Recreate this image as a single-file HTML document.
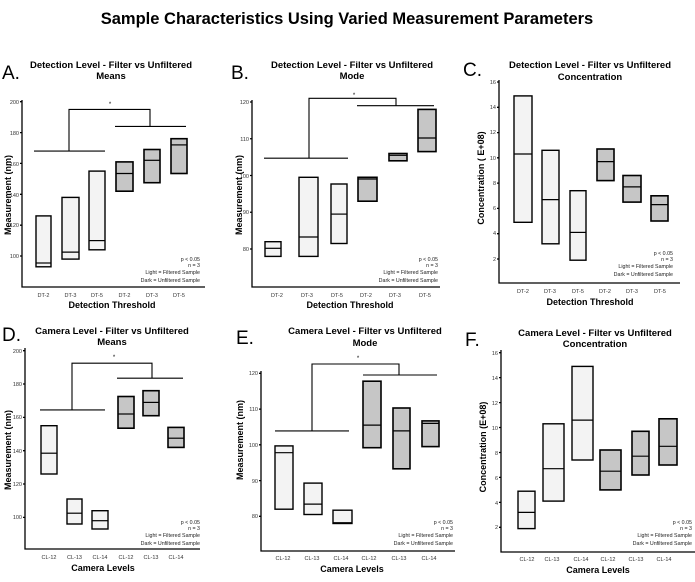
<!DOCTYPE html>
<html><head><meta charset="utf-8"><style>
body{margin:0;background:#fff}
svg{display:block;font-family:"Liberation Sans",sans-serif}
.t{font-weight:bold;font-size:9.5px;text-anchor:middle}
.pl{font-size:19px}
.yl{font-weight:bold;font-size:9px;text-anchor:middle}
.xl{font-weight:bold;font-size:9px;text-anchor:middle}
.tk{font-size:5.5px;fill:#333;text-anchor:middle}
.yt{font-size:5.5px;fill:#333;text-anchor:end}
.lg{font-size:5.3px;fill:#222;text-anchor:end}
.ax{stroke:#000;stroke-width:1.3;fill:none}
.br{stroke:#000;stroke-width:1.1;fill:none}
.L{fill:#f3f3f3;stroke:#000;stroke-width:1.4}
.D{fill:#c6c6c6;stroke:#000;stroke-width:1.6}
.m{stroke:#000;stroke-width:1.2}
</style></head><body>
<svg width="695" height="582" viewBox="0 0 695 582">
<text x="347" y="24" text-anchor="middle" font-weight="bold" font-size="16.5">Sample Characteristics Using Varied Measurement Parameters</text>

<!-- A -->
<text class="pl" x="2" y="79">A.</text>
<text class="t" x="111" y="68">Detection Level - Filter vs Unfiltered</text>
<text class="t" x="111" y="79">Means</text>
<text class="yl" transform="translate(11,195) rotate(-90)">Measurement (nm)</text>
<path class="ax" d="M22,100V287H205"/>
<g class="yt"><text x="19" y="104">200</text><text x="19" y="135">180</text><text x="19" y="166">160</text><text x="19" y="197">140</text><text x="19" y="227">120</text><text x="19" y="258">100</text></g>
<path class="ax" d="M20,101.7h2M20,132.6h2M20,163.4h2M20,194.3h2M20,225.2h2M20,256h2"/>
<rect class="L" x="36" y="215.9" width="15" height="50.9"/><line class="m" x1="36" x2="51" y1="263" y2="263"/>
<rect class="L" x="62" y="197.4" width="17" height="61.7"/><line class="m" x1="62" x2="79" y1="252.1" y2="252.1"/>
<rect class="L" x="89" y="171.1" width="16" height="78.7"/><line class="m" x1="89" x2="105" y1="240.6" y2="240.6"/>
<rect class="D" x="116" y="161.9" width="17" height="29.3"/><line class="m" x1="116" x2="133" y1="173.5" y2="173.5"/>
<rect class="D" x="144" y="149.5" width="16" height="33.2"/><line class="m" x1="144" x2="160" y1="160.3" y2="160.3"/>
<rect class="D" x="171" y="138.7" width="16" height="34.8"/><line class="m" x1="171" x2="187" y1="144.9" y2="144.9"/>
<path class="br" d="M34,151.1H105M69,151.1V109.4H150V126.4M115,126.4H186"/>
<text x="110" y="106" font-size="6" text-anchor="middle">*</text>
<g class="tk"><text x="43.5" y="297">DT-2</text><text x="70.5" y="297">DT-3</text><text x="97" y="297">DT-5</text><text x="124.5" y="297">DT-2</text><text x="152" y="297">DT-3</text><text x="179" y="297">DT-5</text></g>
<text class="xl" x="112" y="308">Detection Threshold</text>
<g class="lg"><text x="200" y="261">p &lt; 0.05</text><text x="200" y="267">n = 3</text><text x="200" y="274">Light = Filtered Sample</text><text x="200" y="282">Dark = Unfiltered Sample</text></g>

<!-- B -->
<text class="pl" x="231" y="79">B.</text>
<text class="t" x="352" y="68">Detection Level - Filter vs Unfiltered</text>
<text class="t" x="352" y="79">Mode</text>
<text class="yl" transform="translate(242,195) rotate(-90)">Measurement (nm)</text>
<path class="ax" d="M252,100V287H440"/>
<g class="yt"><text x="249" y="104">120</text><text x="249" y="141">110</text><text x="249" y="178">100</text><text x="249" y="214">90</text><text x="249" y="251">80</text></g>
<path class="ax" d="M250,102h2M250,138.75h2M250,175.5h2M250,212.25h2M250,249h2"/>
<rect class="L" x="265" y="241.7" width="16" height="14.7"/><line class="m" x1="265" x2="281" y1="248.3" y2="248.3"/>
<rect class="L" x="299" y="177.3" width="19" height="79.1"/><line class="m" x1="299" x2="318" y1="237" y2="237"/>
<rect class="L" x="331" y="184" width="16" height="59.5"/><line class="m" x1="331" x2="347" y1="214.1" y2="214.1"/>
<rect class="D" x="358" y="177.3" width="19" height="23.9"/><line class="m" x1="358" x2="377" y1="179" y2="179" stroke-width="2"/>
<rect class="D" x="389" y="153.5" width="18" height="7.3"/><line class="m" x1="389" x2="407" y1="155.3" y2="155.3" stroke-width="2"/>
<rect class="D" x="418" y="109.4" width="18" height="42.2"/><line class="m" x1="418" x2="436" y1="138" y2="138"/>
<path class="br" d="M264,158.2H348M309,158.2V98.3H396V105.7M357,105.7H434"/>
<text x="354" y="97" font-size="6" text-anchor="middle">*</text>
<g class="tk"><text x="277" y="297">DT-2</text><text x="307" y="297">DT-3</text><text x="337" y="297">DT-5</text><text x="366" y="297">DT-2</text><text x="395" y="297">DT-3</text><text x="425" y="297">DT-5</text></g>
<text class="xl" x="350" y="308">Detection Threshold</text>
<g class="lg"><text x="438" y="261">p &lt; 0.05</text><text x="438" y="267">n = 3</text><text x="438" y="274">Light = Filtered Sample</text><text x="438" y="282">Dark = Unfiltered Sample</text></g>

<!-- C -->
<text class="pl" x="463" y="76">C.</text>
<text class="t" x="590" y="68">Detection Level - Filter vs Unfiltered</text>
<text class="t" x="590" y="80">Concentration</text>
<text class="yl" transform="translate(484,178) rotate(-90)">Concentration ( E+08)</text>
<path class="ax" d="M499,80V283H680"/>
<g class="yt"><text x="496" y="84">16</text><text x="496" y="109">14</text><text x="496" y="134">12</text><text x="496" y="160">10</text><text x="496" y="185">8</text><text x="496" y="210">6</text><text x="496" y="235">4</text><text x="496" y="261">2</text></g>
<path class="ax" d="M497,82h2M497,107.3h2M497,132.6h2M497,157.8h2M497,183.1h2M497,208.4h2M497,233.7h2M497,259h2"/>
<rect class="L" x="514" y="95.9" width="18" height="126.4"/><line class="m" x1="514" x2="532" y1="154" y2="154"/>
<rect class="L" x="542" y="150.3" width="17" height="93.5"/><line class="m" x1="542" x2="559" y1="199.6" y2="199.6"/>
<rect class="L" x="570" y="190.7" width="16" height="69.5"/><line class="m" x1="570" x2="586" y1="232.4" y2="232.4"/>
<rect class="D" x="597" y="149" width="17" height="31.6"/><line class="m" x1="597" x2="614" y1="161.6" y2="161.6"/>
<rect class="D" x="623" y="175.5" width="18" height="26.6"/><line class="m" x1="623" x2="641" y1="186.9" y2="186.9"/>
<rect class="D" x="651" y="195.8" width="17" height="25.2"/><line class="m" x1="651" x2="668" y1="204.6" y2="204.6"/>
<g class="tk"><text x="523" y="293">DT-2</text><text x="550" y="293">DT-3</text><text x="578" y="293">DT-5</text><text x="605" y="293">DT-2</text><text x="632" y="293">DT-3</text><text x="660" y="293">DT-5</text></g>
<text class="xl" x="590" y="305">Detection Threshold</text>
<g class="lg"><text x="673" y="255">p &lt; 0.05</text><text x="673" y="261">n = 3</text><text x="673" y="268">Light = Filtered Sample</text><text x="673" y="276">Dark = Unfiltered Sample</text></g>

<!-- D -->
<text class="pl" x="2" y="341">D.</text>
<text class="t" x="112" y="334">Camera Level - Filter vs Unfiltered</text>
<text class="t" x="112" y="345">Means</text>
<text class="yl" transform="translate(11,450) rotate(-90)">Measurement (nm)</text>
<path class="ax" d="M25,348V549H200"/>
<g class="yt"><text x="22" y="353">200</text><text x="22" y="386">180</text><text x="22" y="419">160</text><text x="22" y="453">140</text><text x="22" y="486">120</text><text x="22" y="519">100</text></g>
<path class="ax" d="M23,350.7h2M23,384h2M23,417.4h2M23,450.7h2M23,484h2M23,517.4h2"/>
<rect class="L" x="41" y="425.7" width="16" height="48.3"/><line class="m" x1="41" x2="57" y1="453.2" y2="453.2"/>
<rect class="L" x="67" y="499" width="15" height="25"/><line class="m" x1="67" x2="82" y1="513.2" y2="513.2"/>
<rect class="L" x="92" y="510.7" width="16" height="18.3"/><line class="m" x1="92" x2="108" y1="520.7" y2="520.7"/>
<rect class="D" x="118" y="396.5" width="16" height="31.7"/><line class="m" x1="118" x2="134" y1="414" y2="414"/>
<rect class="D" x="143" y="390.7" width="16" height="25"/><line class="m" x1="143" x2="159" y1="402.4" y2="402.4"/>
<rect class="D" x="168" y="427.4" width="16" height="20"/><line class="m" x1="168" x2="184" y1="438.2" y2="438.2"/>
<path class="br" d="M40,409.9H105M72,409.9V363.2H152V378.2M117,378.2H183"/>
<text x="114" y="359" font-size="6" text-anchor="middle">*</text>
<g class="tk"><text x="49" y="559">CL-12</text><text x="74.5" y="559">CL-13</text><text x="100" y="559">CL-14</text><text x="126" y="559">CL-12</text><text x="151" y="559">CL-13</text><text x="176" y="559">CL-14</text></g>
<text class="xl" x="103" y="571">Camera Levels</text>
<g class="lg"><text x="200" y="524">p &lt; 0.05</text><text x="200" y="530">n = 3</text><text x="200" y="537">Light = Filtered Sample</text><text x="200" y="545">Dark = Unfiltered Sample</text></g>

<!-- E -->
<text class="pl" x="236" y="344">E.</text>
<text class="t" x="365" y="334">Camera Level - Filter vs Unfiltered</text>
<text class="t" x="365" y="346">Mode</text>
<text class="yl" transform="translate(243,440) rotate(-90)">Measurement (nm)</text>
<path class="ax" d="M261,371V551H455"/>
<g class="yt"><text x="258" y="375">120</text><text x="258" y="411">110</text><text x="258" y="447">100</text><text x="258" y="483">90</text><text x="258" y="518">80</text></g>
<path class="ax" d="M259,373.3h2M259,409.1h2M259,444.8h2M259,480.6h2M259,516.3h2"/>
<rect class="L" x="275" y="445.9" width="18" height="63.3"/><line class="m" x1="275" x2="293" y1="452.7" y2="452.7"/>
<rect class="L" x="304" y="483.1" width="18" height="31.4"/><line class="m" x1="304" x2="322" y1="504.1" y2="504.1"/>
<rect class="L" x="333" y="510.2" width="19" height="13.3"/><line class="m" x1="333" x2="352" y1="522.7" y2="522.7" stroke-width="2"/>
<rect class="D" x="363" y="381.2" width="18" height="66.5"/><line class="m" x1="363" x2="381" y1="425.1" y2="425.1"/>
<rect class="D" x="393" y="408" width="17" height="60.8"/><line class="m" x1="393" x2="410" y1="430.9" y2="430.9"/>
<rect class="D" x="422" y="420.9" width="17" height="25.7"/><line class="m" x1="422" x2="439" y1="423.4" y2="423.4"/>
<path class="br" d="M275,430.9H349M312,430.9V364H399V375M363,375H437"/>
<text x="358" y="360" font-size="6" text-anchor="middle">*</text>
<g class="tk"><text x="283" y="560">CL-12</text><text x="312" y="560">CL-13</text><text x="341" y="560">CL-14</text><text x="369" y="560">CL-12</text><text x="399" y="560">CL-13</text><text x="429" y="560">CL-14</text></g>
<text class="xl" x="352" y="572">Camera Levels</text>
<g class="lg"><text x="453" y="524">p &lt; 0.05</text><text x="453" y="530">n = 3</text><text x="453" y="537">Light = Filtered Sample</text><text x="453" y="545">Dark = Unfiltered Sample</text></g>

<!-- F -->
<text class="pl" x="465" y="346">F.</text>
<text class="t" x="595" y="336">Camera Level - Filter vs Unfiltered</text>
<text class="t" x="595" y="347">Concentration</text>
<text class="yl" transform="translate(486,447) rotate(-90)">Concentration (E+08)</text>
<path class="ax" d="M501,350V552H695"/>
<g class="yt"><text x="498" y="355">16</text><text x="498" y="380">14</text><text x="498" y="405">12</text><text x="498" y="430">10</text><text x="498" y="455">8</text><text x="498" y="480">6</text><text x="498" y="505">4</text><text x="498" y="529">2</text></g>
<path class="ax" d="M499,352.7h2M499,377.6h2M499,402.6h2M499,427.5h2M499,452.5h2M499,477.4h2M499,502.4h2M499,527.3h2"/>
<rect class="L" x="518" y="491.2" width="17" height="37.4"/><line class="m" x1="518" x2="535" y1="512.4" y2="512.4"/>
<rect class="L" x="543" y="423.8" width="21" height="77.3"/><line class="m" x1="543" x2="564" y1="468.7" y2="468.7"/>
<rect class="L" x="572" y="366.4" width="21" height="93.6"/><line class="m" x1="572" x2="593" y1="420.1" y2="420.1"/>
<rect class="D" x="600" y="450" width="21" height="39.9"/><line class="m" x1="600" x2="621" y1="471.2" y2="471.2"/>
<rect class="D" x="632" y="431.3" width="17" height="43.7"/><line class="m" x1="632" x2="649" y1="456.2" y2="456.2"/>
<rect class="D" x="659" y="418.8" width="18" height="46.2"/><line class="m" x1="659" x2="677" y1="446.3" y2="446.3"/>
<g class="tk"><text x="527" y="561">CL-12</text><text x="552" y="561">CL-13</text><text x="581" y="561">CL-14</text><text x="608" y="561">CL-12</text><text x="636" y="561">CL-13</text><text x="664" y="561">CL-14</text></g>
<text class="xl" x="598" y="573">Camera Levels</text>
<g class="lg"><text x="692" y="524">p &lt; 0.05</text><text x="692" y="530">n = 3</text><text x="692" y="537">Light = Filtered Sample</text><text x="692" y="545">Dark = Unfiltered Sample</text></g>
</svg>
</body></html>
